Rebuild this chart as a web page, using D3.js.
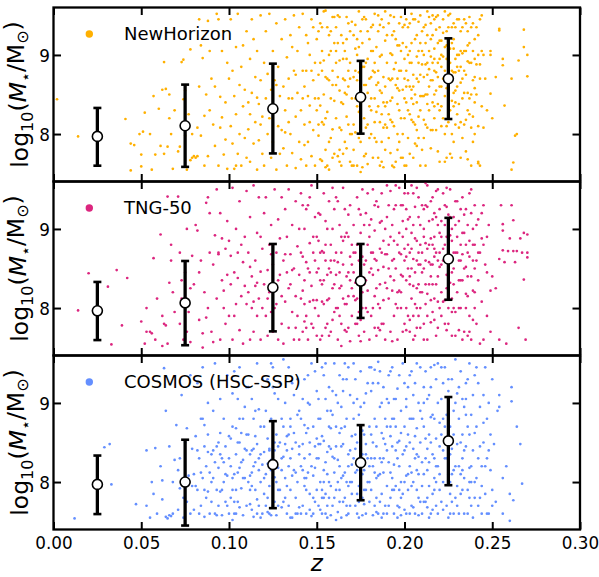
<!DOCTYPE html>
<html>
<head>
<meta charset="utf-8">
<script src="https://cdn.jsdelivr.net/npm/d3@7"></script>
<style>
  body { margin: 0; background: #fff; }
  svg { display: block; }
  text { font-family: "DejaVu Sans", sans-serif; fill: #000; }
</style>
</head>
<body>
<svg id="chart" width="599" height="577"></svg>
<script>
// ---- data -----------------------------------------------------------
// Redshift bin centres used for the binned statistics
const binZ = [0.025, 0.075, 0.125, 0.175, 0.225];

const xTickValues = [0, 0.05, 0.10, 0.15, 0.20, 0.25, 0.30];
const yTickValues = [8, 9];

const sampleNames = ["NewHorizon", "TNG-50", "COSMOS (HSC-SSP)"];
const sampleColors = ["#FFB000", "#DC267F", "#648FFF"];

// Binned median and 16th/84th percentiles of log stellar mass
const nhMid  = [7.97, 8.105, 8.32, 8.465, 8.70];
const nhLo   = [7.60, 7.585, 7.755, 8.005, 8.19];
const nhHi   = [8.33, 8.625, 8.89, 8.925, 9.21];

const tngMid = [7.965, 8.065, 8.26, 8.34, 8.62];
const tngLo  = [7.595, 7.53, 7.705, 7.875, 8.105];
const tngHi  = [8.33, 8.595, 8.81, 8.81, 9.14];

const cosMid = [7.97, 8.00, 8.22, 8.245, 8.52];
const cosLo  = [7.595, 7.45, 7.67, 7.77, 7.96];
const cosHi  = [8.335, 8.535, 8.77, 8.72, 9.075];

// Individual galaxies as flat pairs: z in units of 1e-3, log M* in units of 1e-2
const nhGalaxies = [
  2,844, 14,797, 41,819, 44,788, 46,786, 44,754, 49,800,
  50,774, 50,759, 51,803, 52,827, 55,800, 56,755, 57,848, 58,774,
  60,832, 61,785, 62,856, 63,891, 63,775, 64,857, 65,784, 66,850, 66,820, 67,800, 68,756, 69,830,
  71,778, 72,784, 73,891, 74,894, 74,844, 75,798, 76,755, 75,855, 78,767, 78,907, 79,770, 77,825, 79,800,
  80,772, 81,770, 82,772, 83,945, 84,912, 85,896, 83,860, 86,823, 84,798, 88,772, 87,850, 89,905, 86,760, 82,808, 88,943, 89,830,
  90,870, 91,812, 92,785, 93,952, 94,760, 95,847, 95,808, 96,905, 97,930, 97,774, 98,840, 98,793, 99,890, 99,756, 92,860, 94,945, 96,821,
  100,870, 101,810, 101,945, 102,788, 103,848, 103,756, 104,910, 104,825, 105,775, 105,952, 106,862, 106,800, 107,885, 107,760, 108,835, 108,912, 109,795, 109,856, 110,770, 110,930, 102,880, 104,760,
  111,840, 111,806, 112,895, 112,765, 113,945, 113,852, 114,788, 114,920, 115,815, 115,872, 116,755, 116,905, 117,838, 117,792, 118,950, 118,868, 119,775, 119,822, 120,890, 112,825, 116,846, 118,812,
  120,760, 121,845, 121,930, 122,800, 122,876, 123,820, 123,952, 124,770, 124,856, 125,905, 125,790, 126,868, 126,832, 127,755, 127,940, 128,810, 128,885, 129,848, 129,775, 130,920, 130,805, 124,830, 127,862,
  131,860, 131,782, 132,945, 132,830, 133,897, 133,760, 134,815, 134,870, 135,925, 135,800, 136,845, 136,776, 137,950, 137,880, 138,822, 138,757, 139,905, 139,852, 140,790, 140,935, 132,802, 134,845, 136,910, 138,875,
  141,830, 141,768, 142,880, 142,952, 143,812, 143,860, 144,760, 144,925, 145,848, 145,790, 146,900, 146,836, 147,772, 147,945, 148,868, 148,805, 149,890, 149,760, 150,830, 150,920, 142,845, 144,880, 146,815, 148,935, 143,786,
  151,875, 151,798, 152,940, 152,836, 153,766, 153,905, 154,850, 154,812, 155,956, 155,780, 156,870, 156,828, 157,900, 157,755, 158,845, 158,930, 159,806, 159,862, 160,775, 160,915, 151,845, 153,880, 155,820, 157,868, 159,948, 152,768, 154,893, 156,760, 158,795, 160,842,
  161,890, 161,820, 162,950, 162,772, 163,855, 163,808, 164,925, 164,760, 165,870, 165,838, 166,905, 166,790, 167,948, 167,850, 168,812, 168,880, 169,765, 169,930, 170,845, 170,800, 161,862, 163,893, 165,775, 167,822, 169,870, 162,915, 164,840, 166,868, 168,940, 170,760, 163,780, 167,895,
  171,872, 171,812, 172,938, 172,845, 173,760, 173,900, 174,828, 174,955, 175,790, 175,866, 176,915, 176,842, 177,772, 177,885, 178,808, 178,945, 179,852, 179,762, 180,920, 180,835, 171,780, 173,868, 175,930, 177,820, 179,895, 172,802, 174,878, 176,758, 178,862, 180,795, 172,908, 176,885, 178,775, 174,795,
  181,905, 181,845, 182,770, 182,880, 183,952, 183,815, 184,862, 184,790, 185,930, 185,835, 186,760, 186,898, 187,852, 187,945, 188,808, 188,872, 189,780, 189,918, 190,840, 190,890, 181,800, 183,878, 185,770, 187,825, 189,860, 182,938, 184,910, 186,815, 188,758, 190,808, 183,845, 185,865, 187,790, 189,955, 181,872, 186,938,
  191,870, 191,825, 192,950, 192,776, 193,900, 193,846, 194,810, 194,930, 195,862, 195,765, 196,912, 196,838, 197,790, 197,880, 198,948, 198,820, 199,856, 199,770, 200,895, 200,845, 191,795, 193,760, 195,890, 197,940, 199,915, 192,868, 194,882, 196,800, 198,770, 200,820, 192,842, 194,758, 196,870, 198,905, 200,938, 193,925, 197,830, 199,800,
  201,880, 201,840, 202,935, 202,795, 203,905, 203,860, 204,952, 204,818, 205,875, 205,770, 206,920, 206,850, 207,898, 207,805, 208,942, 208,866, 209,830, 209,915, 210,888, 210,780, 201,910, 203,825, 205,945, 207,870, 209,760, 202,868, 204,890, 206,812, 208,905, 210,848, 201,760, 203,940, 205,838, 207,925, 209,875, 202,900, 204,856, 206,788, 208,822, 210,930,
  211,900, 211,848, 212,938, 212,812, 213,875, 213,955, 214,830, 214,905, 215,868, 215,782, 216,925, 216,890, 217,850, 217,945, 218,805, 218,878, 219,915, 219,838, 220,895, 220,765, 211,872, 213,925, 215,898, 217,820, 219,950, 212,888, 214,860, 216,840, 218,932, 220,860, 211,795, 213,808, 215,940, 217,880, 219,872, 212,760, 214,948, 216,805, 218,855, 220,918, 213,850, 217,908,
  221,885, 221,835, 222,945, 222,870, 223,910, 223,800, 224,858, 224,930, 225,890, 225,815, 226,952, 226,868, 227,842, 227,915, 228,878, 228,790, 229,935, 229,855, 230,900, 230,825, 221,918, 223,848, 225,868, 227,880, 229,812, 222,898, 224,770, 226,908, 228,940, 230,860, 221,860, 223,880, 225,935, 227,800, 229,895, 222,820, 224,895, 226,830, 228,852, 230,945, 226,775, 228,908,
  231,880, 231,838, 232,930, 232,865, 233,902, 233,795, 234,945, 234,852, 235,875, 235,818, 236,912, 236,768, 237,890, 237,845, 238,935, 238,808, 239,868, 239,905, 240,840, 240,920, 231,900, 233,870, 235,940, 237,825, 239,790, 232,885, 234,812, 236,852, 238,890, 240,872, 232,770, 236,930, 238,760, 240,800, 234,905, 237,948,
  241,888, 241,850, 242,925, 242,810, 243,870, 243,760, 244,905, 244,835, 245,900, 243,945, 242,765, 246,870, 247,830, 249,905, 249,900, 249,851, 250,820, 245,808, 242,763,
  252,872, 254,933, 254,931, 256,895, 256,887, 257,836, 261,870, 262,764, 261,755, 263,798, 264,800, 265,893, 268,932, 268,910, 270,900, 270,873,
  145,915, 147,880, 149,845, 151,930, 152,890, 153,815, 154,955, 155,872, 156,935, 157,790, 158,905, 159,880, 160,948, 161,935, 162,872, 163,948, 164,805, 165,915, 166,852, 167,920, 168,860, 169,800, 170,942, 171,925, 172,880, 173,835, 174,910, 175,848, 176,945, 177,862, 178,890, 179,930, 180,870, 181,830, 182,905, 183,890, 184,828, 185,950, 186,855, 187,900, 188,935, 189,812, 190,925,
  191,940, 192,902, 193,870, 194,948, 195,920, 196,858, 197,912, 198,880, 199,935, 200,870, 201,945, 202,830, 203,890, 204,915, 205,860, 206,945, 207,840, 208,890, 209,950, 210,905, 211,935, 212,915, 213,890, 214,882, 215,920, 216,950, 217,895, 218,948, 219,890, 220,935, 221,900, 222,928, 223,955, 224,912, 225,950, 226,890, 227,935, 228,920, 229,878, 230,885, 231,945, 232,905, 233,935, 234,880, 235,905, 236,892, 237,915, 238,850, 239,940, 240,895, 241,935, 242,900, 243,888, 244,950,
  203,775, 207,785, 211,818, 215,805, 219,778, 223,765, 227,770, 231,808, 235,778, 239,822, 187,765, 183,795, 179,812, 175,752, 171,760, 167,782, 163,765, 159,770, 155,758, 151,812, 188,840, 192,818, 196,780, 200,760, 204,845, 208,795, 212,850, 216,868, 220,830, 224,810, 228,835, 232,815, 236,830, 240,858, 233,845, 229,840, 225,850, 221,810, 217,835, 213,838, 209,848, 205,815, 201,860, 197,855, 193,815, 189,835, 185,880, 181,935, 177,948, 173,920, 169,890, 165,895, 161,905, 157,925, 153,935
];

const tngGalaxies = [
  14,797, 20,844, 31,827, 33,754, 36,848, 39,778, 42,838,
  50,783, 52,755, 53,770, 53,800, 55,770, 56,768, 57,863, 58,760, 59,812,
  61,893, 62,790, 63,780, 64,778, 65,941, 65,755, 66,832, 67,860, 68,820, 69,795, 62,752, 67,880,
  71,941, 72,870, 72,780, 73,812, 74,760, 75,845, 76,900, 77,795, 78,825, 78,757, 79,866, 73,835, 76,770,
  80,830, 81,905, 82,898, 83,785, 84,860, 85,768, 86,820, 87,933, 88,940, 88,800, 89,870, 85,750, 83,845, 87,788, 89,920,
  90,770, 91,855, 92,892, 93,812, 94,870, 94,868, 95,920, 95,760, 96,835, 97,800, 98,875, 98,780, 99,910, 99,842, 91,757, 93,950, 96,888, 97,822,
  100,885, 100,790, 101,830, 102,952, 102,760, 103,845, 104,805, 104,900, 105,870, 106,772, 106,935, 107,815, 108,858, 108,755, 109,890, 109,828, 110,805, 110,948, 101,866, 103,790, 105,838, 107,880,
  111,820, 111,870, 112,760, 112,915, 113,840, 113,800, 114,955, 114,770, 115,860, 115,828, 116,895, 116,790, 117,940, 117,812, 118,846, 118,760, 119,875, 119,800, 120,920, 120,830, 112,852, 114,808, 116,832, 118,890,
  121,790, 121,940, 122,848, 122,765, 123,880, 123,820, 124,905, 124,795, 125,855, 125,770, 126,950, 126,830, 127,870, 127,805, 128,912, 128,760, 129,842, 129,888, 130,815, 130,780, 122,812, 124,868, 126,800, 128,835, 130,940,
  131,860, 131,755, 132,925, 132,808, 133,845, 133,890, 134,775, 134,950, 135,830, 135,868, 136,795, 136,905, 137,760, 137,850, 138,935, 138,815, 139,878, 139,790, 140,842, 140,760, 132,868, 134,825, 136,848, 138,775, 140,900,
  141,812, 141,945, 142,865, 142,770, 143,900, 143,835, 144,790, 144,925, 145,850, 145,760, 146,882, 146,808, 147,955, 147,828, 148,775, 148,870, 149,915, 149,800, 150,845, 150,765, 142,822, 144,858, 146,940, 148,810, 150,890, 143,783,
  151,850, 151,790, 152,918, 152,760, 153,872, 153,830, 154,945, 154,805, 155,860, 155,775, 156,900, 156,842, 157,812, 157,935, 158,770, 158,880, 159,825, 159,952, 160,795, 160,860, 151,885, 153,765, 155,910, 157,850, 159,785, 152,835, 154,870, 156,810, 158,845, 160,925,
  161,800, 161,870, 162,935, 162,760, 163,845, 163,905, 164,780, 164,828, 165,952, 165,855, 166,805, 166,890, 167,770, 167,840, 168,918, 168,815, 169,865, 169,758, 170,880, 170,825, 161,842, 163,790, 165,812, 167,895, 169,930, 162,858, 164,890, 166,772, 168,845, 170,790, 164,752, 168,775,
  171,845, 171,905, 172,780, 172,870, 173,940, 173,812, 174,860, 174,765, 175,895, 175,830, 176,800, 176,950, 177,855, 177,770, 178,920, 178,835, 179,880, 179,795, 180,845, 180,760, 171,815, 173,880, 175,785, 177,905, 179,822, 172,832, 174,925, 176,865, 178,800, 180,905, 175,758, 177,838,
  181,870, 181,790, 182,950, 182,842, 183,815, 183,898, 184,765, 184,860, 185,928, 185,805, 186,875, 186,830, 187,780, 187,945, 188,852, 188,810, 189,900, 189,760, 190,868, 190,825, 181,912, 183,775, 185,848, 187,870, 189,832, 182,800, 184,935, 186,772, 188,885, 190,955, 183,862, 186,908,
  191,880, 191,812, 192,948, 192,770, 193,860, 193,905, 194,835, 194,790, 195,930, 195,850, 196,760, 196,880, 197,822, 197,952, 198,868, 198,800, 199,910, 199,840, 200,780, 200,875, 191,850, 193,758, 195,805, 197,895, 199,770, 192,890, 194,925, 196,820, 198,842, 200,945, 194,862, 198,930,
  201,900, 201,835, 202,945, 202,790, 203,870, 203,915, 204,812, 204,955, 205,862, 205,760, 206,928, 206,845, 207,885, 207,800, 208,940, 208,830, 209,905, 209,775, 210,870, 210,820, 201,772, 203,840, 205,905, 207,952, 209,855, 202,880, 204,895, 206,805, 208,870, 210,930, 201,925, 203,785, 205,828, 207,860, 209,820, 202,850, 206,765, 208,790,
  211,900, 211,850, 212,930, 212,805, 213,875, 213,955, 214,830, 214,910, 215,782, 215,888, 216,940, 216,855, 217,812, 217,920, 218,870, 218,765, 219,905, 219,840, 220,895, 220,800, 211,780, 213,818, 215,935, 217,865, 219,950, 212,882, 214,858, 216,795, 218,915, 220,852, 211,925, 213,760, 215,840, 217,890, 219,808, 212,958, 216,880, 218,830,
  221,890, 221,820, 222,945, 222,860, 223,905, 223,780, 224,842, 224,928, 225,875, 225,800, 226,950, 226,832, 227,885, 227,765, 228,915, 228,850, 229,870, 229,795, 230,935, 230,820, 221,855, 223,880, 225,918, 227,845, 229,905, 222,808, 224,772, 226,892, 228,830, 230,870, 224,952, 227,812,
  231,860, 231,910, 232,800, 232,880, 233,940, 233,835, 234,770, 234,895, 235,852, 235,925, 236,815, 236,870, 237,790, 237,945, 238,840, 238,760, 239,900, 239,822, 240,880, 240,800, 231,772, 233,868, 235,800, 237,885, 239,860, 232,835, 234,918, 236,765, 238,950, 240,930,
  241,860, 241,780, 242,912, 242,835, 243,755, 244,888, 244,808, 245,930, 246,855, 247,790, 248,905, 249,770, 250,840, 243,870, 245,760, 247,890, 249,822,
  252,825, 254,862, 254,760, 255,930, 256,906, 256,898, 256,873, 257,858, 258,755, 259,872, 260,888, 261,930, 262,911, 262,872, 263,858, 264,872, 265,775, 266,888, 267,870, 268,836, 268,895, 269,760, 270,864, 270,893, 270,870,
  141,870, 143,805, 145,930, 147,780, 149,860, 151,920, 153,808, 155,880, 157,765, 159,900, 161,940, 163,825, 165,885, 167,805, 169,835, 171,870, 173,780, 175,918, 177,830, 179,945, 181,850, 183,930, 185,775, 187,910, 189,868, 191,930, 193,822, 195,955, 197,870, 199,890,
  201,865, 202,912, 203,830, 204,875, 205,945, 206,888, 207,825, 208,915, 209,880, 210,845, 211,890, 212,860, 213,928, 214,880, 215,855, 216,912, 217,875, 218,948, 219,860, 220,925, 221,910, 222,875, 223,930, 224,890, 225,845, 226,915, 227,900, 228,870, 229,935, 230,890, 231,835, 232,925, 233,895, 234,850, 235,880, 236,905, 237,865, 238,920, 239,880, 240,850, 241,905, 242,870, 244,920, 245,880, 247,845,
  201,800, 203,770, 205,790, 207,775, 209,800, 211,760, 213,790, 215,810, 217,785, 219,775, 221,790, 223,810, 225,780, 227,795, 229,765, 231,800, 233,760, 235,818, 237,770, 239,785, 186,800, 184,825, 182,870, 180,890, 178,860, 176,820, 174,795, 172,810, 170,855, 168,890, 166,925, 164,870, 162,800, 160,830, 158,860, 156,780, 154,835, 152,870, 150,810, 148,890, 146,845, 144,775, 142,930,
  188,780, 192,840, 196,800, 200,860, 204,850, 208,855, 212,830, 216,830, 220,870, 224,825, 228,800, 232,860, 236,840, 240,820, 190,915, 194,885, 198,820, 199,930
];

const cosmosGalaxies = [
  12,754, 29,844, 32,848, 33,797, 47,772,
  53,840, 53,770, 55,755, 56,800, 58,843, 57,785, 59,760,
  61,820, 62,778, 63,944, 64,890, 64,756, 65,754, 66,758, 67,757, 68,760, 68,800, 69,828, 66,845, 62,802,
  70,872, 71,765, 72,830, 72,792, 73,910, 74,755, 75,850, 76,775, 77,808, 78,760, 78,935, 79,842, 71,815, 74,780, 76,868, 79,795,
  80,810, 80,765, 81,858, 82,790, 82,925, 83,830, 84,770, 84,880, 85,805, 85,945, 86,756, 86,845, 87,820, 87,780, 88,900, 88,838, 89,760, 89,812, 81,795, 83,760, 86,872, 88,788,
  90,835, 90,775, 91,890, 91,805, 92,760, 92,950, 93,845, 93,790, 94,818, 94,770, 95,862, 95,905, 96,758, 96,830, 97,800, 97,880, 98,775, 98,845, 99,935, 99,808, 100,760, 100,858, 91,840, 93,758, 95,788, 97,825, 99,770,
  101,820, 101,780, 102,870, 102,805, 103,760, 103,940, 104,835, 104,790, 105,812, 105,905, 106,768, 106,850, 107,825, 107,792, 108,880, 108,758, 109,842, 109,805, 110,770, 110,920, 101,855, 103,810, 105,775, 107,862, 109,895, 102,752, 104,868, 106,818, 108,828, 110,840, 102,912, 106,945,
  111,800, 111,860, 112,772, 112,835, 113,905, 113,812, 114,756, 114,880, 115,825, 115,790, 116,950, 116,848, 117,770, 117,815, 118,870, 118,800, 119,760, 119,930, 120,838, 120,785, 111,920, 113,765, 115,858, 117,892, 119,822, 112,808, 114,842, 116,778, 118,755, 120,870, 113,840, 117,830,
  121,810, 121,770, 122,855, 122,930, 123,795, 123,760, 124,880, 124,828, 125,805, 125,945, 126,775, 126,840, 127,860, 127,758, 128,818, 128,905, 129,790, 129,850, 130,768, 130,880, 121,890, 123,842, 125,770, 127,800, 129,925, 122,780, 124,758, 126,912, 128,845, 130,815, 122,823, 126,806, 128,770, 124,950,
  131,832, 131,775, 132,900, 132,805, 133,760, 133,858, 134,820, 134,945, 135,790, 135,870, 136,755, 136,842, 137,815, 137,910, 138,780, 138,850, 139,800, 139,930, 140,768, 140,835, 131,870, 133,795, 135,755, 137,862, 139,885, 132,848, 134,770, 136,925, 138,812, 140,890, 131,955, 135,830, 139,760,
  141,820, 141,880, 142,770, 142,848, 143,795, 143,930, 144,760, 144,862, 145,812, 145,900, 146,785, 146,835, 147,757, 147,950, 148,870, 148,808, 149,775, 149,845, 150,915, 150,790, 141,760, 143,830, 145,868, 147,820, 149,940, 142,905, 144,805, 146,765, 148,780, 150,855, 143,872, 146,898, 149,818,
  151,830, 151,770, 152,880, 152,800, 153,945, 153,760, 154,852, 154,815, 155,905, 155,785, 156,838, 156,755, 157,870, 157,920, 158,795, 158,842, 159,770, 159,885, 160,812, 160,950, 151,905, 153,858, 155,825, 157,800, 159,832, 152,765, 154,935, 156,890, 158,868, 160,780, 151,848, 153,790, 155,760, 157,845, 159,915, 154,780, 156,810, 158,758,
  161,845, 161,790, 162,900, 162,762, 163,820, 163,935, 164,805, 164,868, 165,775, 165,848, 166,950, 166,812, 167,880, 167,758, 168,835, 168,795, 169,910, 169,770, 170,858, 170,822, 161,870, 163,775, 165,915, 167,800, 169,840, 162,828, 164,755, 166,870, 168,945, 170,785, 161,752, 163,862, 165,808, 167,930, 169,800, 164,895, 168,760,
  171,830, 171,880, 172,770, 172,812, 173,905, 173,850, 174,755, 174,795, 175,940, 175,832, 176,865, 176,780, 177,815, 177,900, 178,760, 178,848, 179,925, 179,800, 180,870, 180,775, 171,950, 173,785, 175,808, 177,860, 179,830, 172,842, 174,885, 176,758, 178,912, 180,820, 172,930, 174,820, 176,835, 178,790, 180,945, 173,760, 177,772,
  181,860, 181,790, 182,925, 182,820, 183,770, 183,880, 184,845, 184,805, 185,952, 185,760, 186,830, 186,895, 187,785, 187,862, 188,920, 188,812, 189,770, 189,848, 190,905, 190,795, 181,830, 183,942, 185,808, 187,825, 189,880, 182,758, 184,870, 186,775, 188,855, 190,840, 181,915, 184,780, 186,940, 188,760, 190,870, 183,812, 187,900,
  191,825, 191,900, 192,780, 192,858, 193,945, 193,805, 194,760, 194,880, 195,840, 195,795, 196,918, 196,770, 197,852, 197,820, 198,890, 198,758, 199,835, 199,950, 200,800, 200,870, 191,770, 193,845, 195,870, 197,935, 199,785, 192,812, 194,905, 196,830, 198,800, 200,925, 192,940, 194,822, 196,755, 198,862, 200,765, 193,880, 197,790,
  201,845, 201,905, 202,790, 202,860, 203,935, 203,820, 204,770, 204,880, 205,842, 205,800, 206,925, 206,760, 207,868, 207,815, 208,900, 208,780, 209,850, 209,945, 210,825, 210,795, 201,760, 203,880, 205,910, 207,835, 209,775, 202,920, 204,812, 206,858, 208,832, 210,880, 201,808, 203,850, 205,768, 207,950, 209,890, 204,940, 208,758,
  211,870, 211,810, 212,940, 212,775, 213,842, 213,905, 214,795, 214,860, 215,920, 215,760, 216,835, 216,885, 217,805, 217,948, 218,855, 218,770, 219,900, 219,820, 220,875, 220,790, 211,920, 213,768, 215,850, 217,880, 219,760, 212,830, 214,910, 216,785, 218,930, 220,845, 211,775, 213,815, 215,882, 217,830, 219,950, 214,755, 218,800,
  221,860, 221,905, 222,800, 222,880, 223,945, 223,830, 224,770, 224,855, 225,915, 225,810, 226,870, 226,785, 227,930, 227,842, 228,760, 228,890, 229,820, 229,900, 230,848, 230,795, 221,775, 223,870, 225,755, 227,810, 229,955, 222,925, 224,885, 226,835, 228,815, 230,912, 222,840, 226,760, 229,780,
  231,880, 231,820, 232,940, 232,785, 233,860, 233,905, 234,805, 234,760, 235,925, 235,845, 236,790, 236,870, 237,950, 237,818, 238,885, 238,770, 239,840, 239,910, 240,800, 240,862, 231,760, 233,830, 235,885, 237,780, 239,755, 232,850, 234,895, 236,930, 238,820, 240,935, 233,790, 237,860,
  241,870, 241,805, 242,925, 242,770, 243,845, 243,895, 244,760, 244,820, 245,910, 245,850, 246,785, 246,945, 247,830, 247,880, 248,760, 248,900, 249,815, 249,860, 250,790, 250,930,
  251,848, 252,775, 253,890, 254,910, 254,895, 256,805, 256,760, 258,820, 260,785, 260,751, 261,920, 261,902, 262,777, 264,870, 266,848, 267,798,
  82,840, 84,812, 86,790, 88,860, 90,800, 92,825, 94,850, 96,790, 98,810, 100,830, 102,790, 104,760, 106,880, 108,805, 110,860, 112,790, 114,820, 116,760, 118,835, 120,805, 122,762, 124,815, 126,850, 128,790, 130,830, 132,780, 134,860, 136,808, 138,760, 140,845, 142,815, 144,790, 146,850, 148,760, 150,830,
  152,848, 154,800, 156,770, 158,890, 160,830, 162,800, 164,845, 166,780, 168,820, 170,800, 172,860, 174,775, 176,810, 178,835, 180,800, 182,850, 184,762, 186,810, 188,830, 190,760, 192,870, 194,790, 196,850, 198,780, 200,840, 202,810, 204,795, 206,830, 208,810, 210,760, 212,855, 214,825, 216,765, 218,820, 220,810, 222,765, 224,830, 226,800, 228,860, 230,770, 232,810, 234,840, 236,760, 238,800, 240,780, 242,830, 244,795, 246,820, 248,840, 250,770,
  85,880, 95,835, 105,850, 115,890, 125,920, 135,880, 145,935, 155,950, 165,930, 175,895, 185,925, 195,905, 205,880, 215,945, 225,930, 235,905, 245,875, 151,880, 161,910, 171,900, 181,945, 191,935, 201,895, 211,900, 221,945, 231,920, 241,945,
  157,780, 167,770, 177,790, 187,755, 197,768, 207,790, 217,790, 227,775, 237,800, 247,760, 103,775, 113,795, 123,840, 133,840, 143,805, 153,780, 163,790, 173,815, 183,830, 193,790, 203,760, 213,780, 223,850, 233,815, 243,780
];

// ---- layout ---------------------------------------------------------
const plotLeft = 53.5, plotRight = 580;
const panelTop0 = 7.5, panelH = 174;

function unpack(flat) {
  const out = [];
  for (let i = 0; i < flat.length; i += 2) out.push({ z: flat[i] / 1000, m: flat[i + 1] / 100 });
  return out;
}

const panels = [
  { name: sampleNames[0], color: sampleColors[0], pts: unpack(nhGalaxies),
    stats: binZ.map((z, i) => ({ z, mid: nhMid[i], lo: nhLo[i], hi: nhHi[i] })) },
  { name: sampleNames[1], color: sampleColors[1], pts: unpack(tngGalaxies),
    stats: binZ.map((z, i) => ({ z, mid: tngMid[i], lo: tngLo[i], hi: tngHi[i] })) },
  { name: sampleNames[2], color: sampleColors[2], pts: unpack(cosmosGalaxies),
    stats: binZ.map((z, i) => ({ z, mid: cosMid[i], lo: cosLo[i], hi: cosHi[i] })) }
];

const svg = d3.select("#chart");
const x = d3.scaleLinear().domain([0, 0.30]).range([plotLeft, plotRight]);

panels.forEach((p, k) => {
  const top = panelTop0 + k * panelH;
  const y = d3.scaleLinear().domain([7.4, 9.6]).range([top + panelH, top]);
  const g = svg.append("g");

  const clipId = "clip" + k;
  svg.append("clipPath").attr("id", clipId)
    .append("rect").attr("x", plotLeft).attr("y", top)
    .attr("width", plotRight - plotLeft).attr("height", panelH);

  // galaxies
  g.append("g").attr("clip-path", `url(#${clipId})`)
    .selectAll("circle").data(p.pts).join("circle")
    .attr("cx", d => x(d.z)).attr("cy", d => y(d.m))
    .attr("r", 1.35).attr("fill", p.color);

  // binned percentiles
  const eb = g.append("g");
  eb.selectAll("line.bar").data(p.stats).join("line")
    .attr("x1", d => x(d.z)).attr("x2", d => x(d.z))
    .attr("y1", d => y(d.lo)).attr("y2", d => y(d.hi))
    .attr("stroke", "#000").attr("stroke-width", 3.3);
  ["lo", "hi"].forEach(key => {
    eb.selectAll("line.cap-" + key).data(p.stats).join("line")
      .attr("x1", d => x(d.z) - 4).attr("x2", d => x(d.z) + 4)
      .attr("y1", d => y(d[key])).attr("y2", d => y(d[key]))
      .attr("stroke", "#000").attr("stroke-width", 2.6);
  });
  eb.selectAll("circle").data(p.stats).join("circle")
    .attr("cx", d => x(d.z)).attr("cy", d => y(d.mid))
    .attr("r", 5).attr("fill", "#fff").attr("stroke", "#000").attr("stroke-width", 1.6);

  // legend
  g.append("circle").attr("cx", 89.3).attr("cy", top + 26.5).attr("r", 3.7).attr("fill", p.color);
  g.append("text").attr("x", 124).attr("y", top + 32.5)
    .attr("font-size", 18).text(p.name);

  // axes with inward ticks
  const tickLen = 7.5;
  const axB = d3.axisBottom(x).tickValues(xTickValues).tickSize(-tickLen)
    .tickFormat(k === 2 ? d3.format(".2f") : () => "");
  const axT = d3.axisTop(x).tickValues(xTickValues).tickSize(-tickLen).tickFormat(() => "");
  const axL = d3.axisLeft(y).tickValues(yTickValues).tickSize(-tickLen).tickFormat(d3.format("d"));
  const axR = d3.axisRight(y).tickValues(yTickValues).tickSize(-tickLen).tickFormat(() => "");

  const gB = g.append("g").attr("transform", `translate(0,${top + panelH})`).call(axB);
  const gT = g.append("g").attr("transform", `translate(0,${top})`).call(axT);
  const gL = g.append("g").attr("transform", `translate(${plotLeft},0)`).call(axL);
  const gR = g.append("g").attr("transform", `translate(${plotRight},0)`).call(axR);

  [gB, gT, gL, gR].forEach(a => {
    a.select(".domain").remove();
    a.selectAll(".tick line").attr("stroke", "#000").attr("stroke-width", 2);
    a.selectAll(".tick text").attr("font-family", "DejaVu Sans, sans-serif")
      .attr("font-size", 16.8).attr("fill", "#000");
  });
  gL.selectAll(".tick text").attr("x", -3.5).attr("dy", "0.36em");
  gB.selectAll(".tick text").attr("y", 19).attr("dy", 0);

  // frame
  g.append("rect").attr("x", plotLeft).attr("y", top)
    .attr("width", plotRight - plotLeft).attr("height", panelH)
    .attr("fill", "none").attr("stroke", "#000").attr("stroke-width", 2.3);

  // y label: log10(M*/Msun)
  const yl = g.append("text")
    .attr("transform", `translate(28,${top + panelH / 2}) rotate(-90)`)
    .attr("text-anchor", "middle").attr("font-size", 23.5);
  yl.append("tspan").text("log");
  yl.append("tspan").attr("font-size", 16).attr("dy", "0.3em").text("10");
  yl.append("tspan").attr("dy", "-0.3em").text("(");
  yl.append("tspan").attr("font-style", "italic").text("M");
  yl.append("tspan").attr("font-size", 16).attr("dy", "0.3em").text("⋆");
  yl.append("tspan").attr("dy", "-0.3em").text("/M");
  yl.append("tspan").attr("font-size", 16).attr("dy", "0.3em").text("⊙");
  yl.append("tspan").attr("dy", "-0.3em").text(")");
});

// x label
svg.append("text").attr("x", (plotLeft + plotRight) / 2).attr("y", 571)
  .attr("text-anchor", "middle").attr("font-size", 23).attr("font-style", "italic").text("z");
</script>
</body>
</html>
